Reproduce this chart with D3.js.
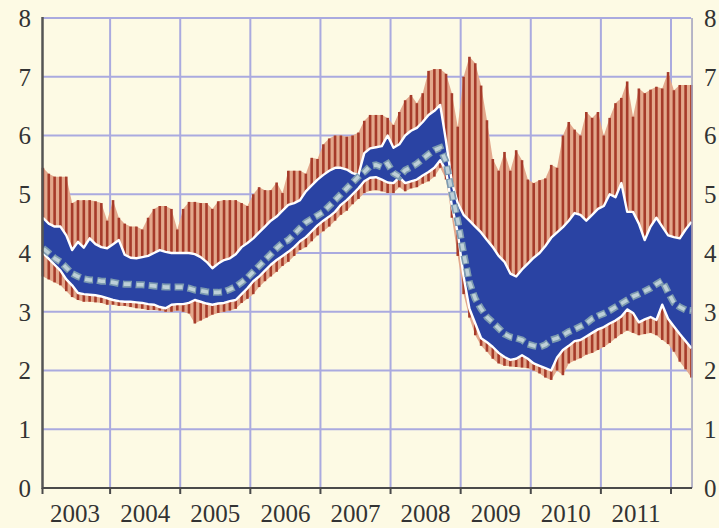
<!DOCTYPE html>
<html>
<head>
<meta charset="utf-8">
<script src="https://cdn.jsdelivr.net/npm/d3@7"></script>
<style>
  html, body { margin: 0; padding: 0; background: #fdfae4; }
  svg { display: block; }
</style>
</head>
<body>
<svg id="chart" width="719" height="528"></svg>
<script>
// Monthly series, January 2003 to April 2012 (percent)
const startYear = 2003;
const yearLabels = ["2003", "2004", "2005", "2006", "2007", "2008", "2009", "2010", "2011"];
const yTicks = [0, 1, 2, 3, 4, 5, 6, 7, 8];

const upperOuter = [
  5.45, 5.35, 5.3, 5.3, 5.3, 4.85, 4.9, 4.9, 4.9, 4.88, 4.85, 4.55,
  4.9, 4.6, 4.5, 4.45, 4.45, 4.4, 4.6, 4.75, 4.8, 4.8, 4.75, 4.4,
  4.75, 4.87, 4.87, 4.85, 4.85, 4.75, 4.88, 4.9, 4.9, 4.9, 4.85, 4.8,
  5.0, 5.12, 5.07, 5.07, 5.2, 5.02, 5.4, 5.4, 5.4, 5.35, 5.62, 5.6,
  5.85, 5.95, 6.0, 6.0, 5.98, 6.0, 6.05, 6.25, 6.35, 6.35, 6.35, 6.3,
  6.18, 6.4, 6.6, 6.69, 6.55, 6.72, 7.1, 7.13, 7.13, 7.05, 6.72, 6.15,
  7.0, 7.34, 7.23, 6.85, 6.26, 5.6, 5.4, 5.72, 5.4, 5.75, 5.58, 5.25,
  5.19, 5.24, 5.27, 5.5, 5.45, 6.0, 6.23, 6.1, 6.0, 6.4, 6.3, 6.4,
  6.0, 6.3, 6.55, 6.64, 6.92, 6.32, 6.8, 6.72, 6.78, 6.83, 6.8, 7.08,
  6.77, 6.86, 6.86, 6.86
];

const upperInner = [
  4.6, 4.5, 4.45, 4.45, 4.3, 4.05, 4.19, 4.09, 4.25, 4.15, 4.1, 4.08,
  4.15, 4.22, 3.97, 3.92, 3.91, 3.93, 3.95, 4.0, 4.05, 4.02, 4.0, 4.0,
  4.0, 4.0, 3.98, 3.93, 3.85, 3.74, 3.82, 3.88, 3.91, 3.98, 4.1, 4.17,
  4.25, 4.35, 4.45, 4.55, 4.62, 4.72, 4.82, 4.85, 4.9, 5.05, 5.15, 5.25,
  5.33, 5.4, 5.45, 5.45, 5.42, 5.36, 5.33, 5.7, 5.78, 5.8, 5.82, 6.0,
  5.79, 5.85, 6.0, 6.08, 6.13, 6.23, 6.35, 6.42, 6.52, 5.9, 5.2, 4.85,
  4.65, 4.55, 4.45, 4.35, 4.22, 4.1, 3.95, 3.85, 3.65, 3.6, 3.72, 3.82,
  3.92, 4.0, 4.12, 4.26, 4.35, 4.44, 4.55, 4.68, 4.65, 4.55, 4.65, 4.75,
  4.8, 5.0, 4.95, 5.19, 4.7, 4.7, 4.5, 4.22, 4.45, 4.6, 4.45, 4.3,
  4.27, 4.25, 4.4, 4.53
];

const median = [
  4.08, 4.0, 3.91, 3.85, 3.75, 3.65, 3.6, 3.56, 3.54, 3.54, 3.52, 3.52,
  3.5, 3.48, 3.47, 3.47, 3.46, 3.46, 3.45, 3.44, 3.43, 3.42, 3.42, 3.42,
  3.42, 3.4, 3.37, 3.36, 3.34, 3.33, 3.33, 3.34, 3.38, 3.43, 3.5, 3.58,
  3.68, 3.78, 3.88, 3.98, 4.08, 4.17, 4.22, 4.32, 4.42, 4.52, 4.58, 4.64,
  4.7, 4.8, 4.9, 5.0, 5.1, 5.2, 5.3, 5.38, 5.48, 5.5, 5.46, 5.52,
  5.36, 5.3, 5.41, 5.46, 5.52, 5.6, 5.68, 5.75, 5.79, 5.55, 5.02, 4.55,
  4.0, 3.5, 3.22, 3.05, 2.91, 2.82, 2.72, 2.62, 2.57, 2.55, 2.52, 2.45,
  2.42, 2.4, 2.44, 2.52, 2.55, 2.6, 2.66, 2.7, 2.75, 2.8, 2.88, 2.93,
  2.97, 3.02, 3.08, 3.14, 3.2, 3.26, 3.3, 3.35, 3.4, 3.47, 3.53, 3.33,
  3.15, 3.08, 3.03, 3.02
];

const lowerInner = [
  4.0, 3.9, 3.8, 3.7, 3.55, 3.45, 3.32, 3.3, 3.29, 3.28, 3.26, 3.23,
  3.2, 3.18, 3.17, 3.17, 3.16, 3.15, 3.13, 3.12, 3.08, 3.06, 3.12, 3.13,
  3.13, 3.15, 3.2, 3.17, 3.14, 3.12, 3.14, 3.15, 3.18, 3.2, 3.3, 3.4,
  3.52, 3.6, 3.7, 3.8, 3.88, 3.95, 4.02, 4.1, 4.2, 4.27, 4.37, 4.47,
  4.55, 4.62, 4.7, 4.82, 4.9, 5.0, 5.1, 5.22, 5.28, 5.29, 5.25, 5.2,
  5.19, 5.29, 5.19, 5.22, 5.25, 5.32, 5.38, 5.45, 5.58, 5.4, 4.8, 4.35,
  3.6, 3.05, 2.8, 2.55, 2.48, 2.4, 2.3, 2.23, 2.18, 2.2, 2.26, 2.2,
  2.12, 2.08, 2.04, 2.0, 2.22, 2.35, 2.42, 2.5, 2.52, 2.58, 2.64, 2.7,
  2.74, 2.8, 2.85, 2.92, 3.04, 2.98, 2.82, 2.87, 2.91, 2.86, 3.12, 2.88,
  2.75, 2.62, 2.5, 2.38
];

const lowerOuter = [
  3.6, 3.55, 3.5, 3.45, 3.35, 3.25, 3.2, 3.17, 3.17, 3.16, 3.15, 3.12,
  3.12, 3.1, 3.1, 3.08, 3.06, 3.05, 3.03, 3.03, 3.02, 3.0, 3.0, 3.02,
  3.0, 2.97, 2.8, 2.85, 2.9, 2.95, 2.98, 3.0, 3.02, 3.05, 3.15, 3.22,
  3.3, 3.42, 3.52, 3.6, 3.68, 3.78, 3.85, 3.95, 4.05, 4.1, 4.2, 4.3,
  4.37, 4.45, 4.55, 4.65, 4.72, 4.83, 4.92, 5.02, 5.06, 5.07, 5.05, 5.02,
  5.02, 5.12, 5.05, 5.1, 5.12, 5.18, 5.22, 5.3, 5.45, 5.25, 4.6, 3.95,
  3.3, 2.9, 2.6, 2.42, 2.32, 2.2, 2.12, 2.08, 2.07, 2.06, 2.05, 2.04,
  2.0, 1.95, 1.88, 1.84, 2.0, 1.92, 2.12, 2.17, 2.21, 2.27, 2.3, 2.35,
  2.4, 2.47, 2.55, 2.62, 2.68, 2.64, 2.6, 2.62, 2.64, 2.6, 2.52, 2.45,
  2.32, 2.15, 2.02, 1.88
];

// Month centres as decimal years
const months = upperOuter.map((_, i) => startYear + (i + 0.5) / 12);
const rows = months.map((t, i) => ({
  t, uo: upperOuter[i], ui: upperInner[i], md: median[i], li: lowerInner[i], lo: lowerOuter[i]
}));

const xEnd = 2012.3;
const x = d3.scaleLinear().domain([2003, 2012]).range([40, 671]);
const y = d3.scaleLinear().domain([0, 8]).range([488, 18]);

const svg = d3.select("#chart");
const left = x(2003) + 2.5, right = x(xEnd);

svg.append("rect").attr("width", 719).attr("height", 528).attr("fill", "#fdfae4");

// Grid
const grid = svg.append("g").attr("stroke", "#aaaadf").attr("stroke-width", 2);
grid.selectAll("line.h").data(yTicks.filter(v => v > 0)).join("line")
  .attr("x1", left).attr("x2", right - 1)
  .attr("y1", d => y(d)).attr("y2", d => y(d));
grid.selectAll("line.v").data(d3.range(2004, 2013)).join("line")
  .attr("x1", d => x(d)).attr("x2", d => x(d))
  .attr("y1", y(8)).attr("y2", y(0));

// Outer band: salmon fill with a dark stripe per month
svg.append("path")
  .datum(rows)
  .attr("fill", "#e3a88c")
  .attr("d", d3.area().x(d => x(d.t)).y0(d => y(d.lo)).y1(d => y(d.uo)));

svg.append("g").selectAll("rect").data(rows).join("rect")
  .attr("x", d => x(d.t) - 1.3)
  .attr("width", 2.6)
  .attr("y", d => y(d.uo))
  .attr("height", d => y(d.lo) - y(d.uo))
  .attr("fill", "#a63b2a");

// Inner band
svg.append("path")
  .datum(rows)
  .attr("fill", "#2a43a3")
  .attr("d", d3.area().x(d => x(d.t)).y0(d => y(d.li)).y1(d => y(d.ui)));

const edge = (key) => d3.line().x(d => x(d.t)).y(d => y(d[key]));
["ui", "li"].forEach(k => {
  svg.append("path").datum(rows)
    .attr("fill", "none").attr("stroke", "#ffffff").attr("stroke-width", 2.4)
    .attr("stroke-linejoin", "round")
    .attr("d", edge(k));
});

// Median: outlined dashes
svg.append("path").datum(rows)
  .attr("fill", "none").attr("stroke", "#7d9bb0").attr("stroke-width", 7)
  .attr("stroke-dasharray", "9 4")
  .attr("d", edge("md"));
svg.append("path").datum(rows)
  .attr("fill", "none").attr("stroke", "#bed0d8").attr("stroke-width", 3.6)
  .attr("stroke-dasharray", "7 6").attr("stroke-dashoffset", -1)
  .attr("d", edge("md"));

// Axes
svg.append("line")
  .attr("x1", left).attr("x2", left).attr("y1", y(8) - 1).attr("y2", y(0) + 1)
  .attr("stroke", "#555").attr("stroke-width", 2.5);
svg.append("line")
  .attr("x1", right).attr("x2", right).attr("y1", y(8)).attr("y2", y(0))
  .attr("stroke", "#a5a5c0").attr("stroke-width", 1.6);
svg.append("line")
  .attr("x1", left).attr("x2", right).attr("y1", y(0)).attr("y2", y(0))
  .attr("stroke", "#4a4a4a").attr("stroke-width", 2.2);
svg.append("g").selectAll("line").data(d3.range(2003, 2013)).join("line")
  .attr("x1", d => Math.max(x(d), left)).attr("x2", d => Math.max(x(d), left))
  .attr("y1", y(0)).attr("y2", y(0) + 6)
  .attr("stroke", "#4a4a4a").attr("stroke-width", 2);

// Labels
const font = "'Liberation Serif', 'Times New Roman', serif";
svg.append("g").selectAll("text").data(yTicks).join("text")
  .attr("x", 31).attr("y", d => y(d))
  .attr("dy", "0.35em")
  .attr("text-anchor", "end")
  .attr("font-family", font).attr("font-size", 25).attr("fill", "#333")
  .text(d => d);
svg.append("g").selectAll("text").data(yTicks).join("text")
  .attr("x", 704).attr("y", d => y(d))
  .attr("dy", "0.35em")
  .attr("text-anchor", "start")
  .attr("font-family", font).attr("font-size", 25).attr("fill", "#333")
  .text(d => d);
svg.append("g").selectAll("text").data(yearLabels).join("text")
  .attr("x", d => x(+d + 0.5)).attr("y", 522)
  .attr("text-anchor", "middle")
  .attr("font-family", font).attr("font-size", 25).attr("fill", "#333")
  .text(d => d);
</script>
</body>
</html>
